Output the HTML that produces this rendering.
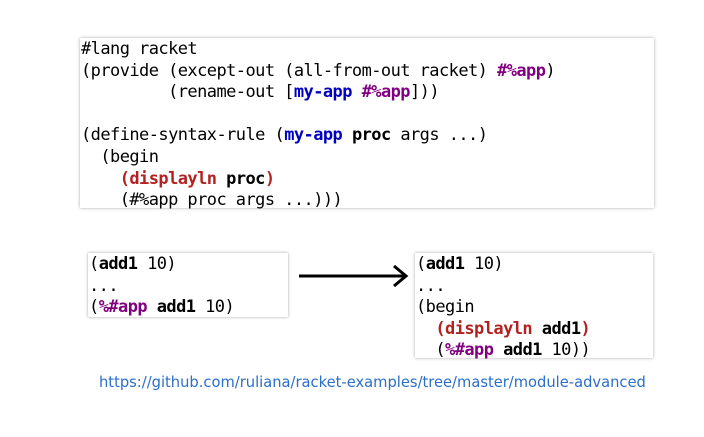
<!DOCTYPE html>
<html><head><style>
body{margin:0;width:704px;height:437px;background:#fff;position:relative;overflow:hidden}
.box{position:absolute;background:#fff;box-shadow:0 0 3px rgba(0,0,0,0.35);font-family:"DejaVu Sans Mono","Liberation Mono",monospace;font-size:17px;letter-spacing:-0.56px;line-height:21.6px;white-space:pre;color:#000;box-sizing:border-box;padding-left:1px;padding-top:1px}
.p{color:#800080;font-weight:bold}
.bl{color:#0000c0;font-weight:bold}
.r{color:#b22222;font-weight:bold}
b{font-weight:bold}
.link{position:absolute;left:99px;top:374px;font-family:"DejaVu Sans","Liberation Sans",sans-serif;font-size:14.7px;color:#2a6fc9;white-space:nowrap}
</style></head><body>
<div class="box" style="left:80px;top:38px;width:574px;height:170px;">#lang racket
(provide (except-out (all-from-out racket) <span class="p">#%app</span>)
         (rename-out [<span class="bl">my-app</span> <span class="p">#%app</span>]))

(define-syntax-rule (<span class="bl">my-app</span> <b>proc</b> args ...)
  (begin
    <span class="r">(displayln <b style="color:#000">proc</b>)</span>
    (#%app proc args ...)))</div>
<div class="box" style="left:88px;top:253px;width:200px;height:64px;">(<b>add1</b> 10)
...
(<span class="p">%#app</span> <b>add1</b> 10)</div>
<svg style="position:absolute;left:0;top:0" width="704" height="437">
<line x1="299" y1="276" x2="405" y2="276" stroke="#000" stroke-width="3"/>
<polyline points="394,266 406,276 394,286" fill="none" stroke="#000" stroke-width="3"/>
</svg>
<div class="box" style="left:415px;top:253px;width:238px;height:105px;">(<b>add1</b> 10)
...
(begin
  <span class="r">(displayln <b style="color:#000">add1</b>)</span>
  (<span class="p">%#app</span> <b>add1</b> 10))</div>
<div class="link">https://github.com/ruliana/racket-examples/tree/master/module-advanced</div>
</body></html>
